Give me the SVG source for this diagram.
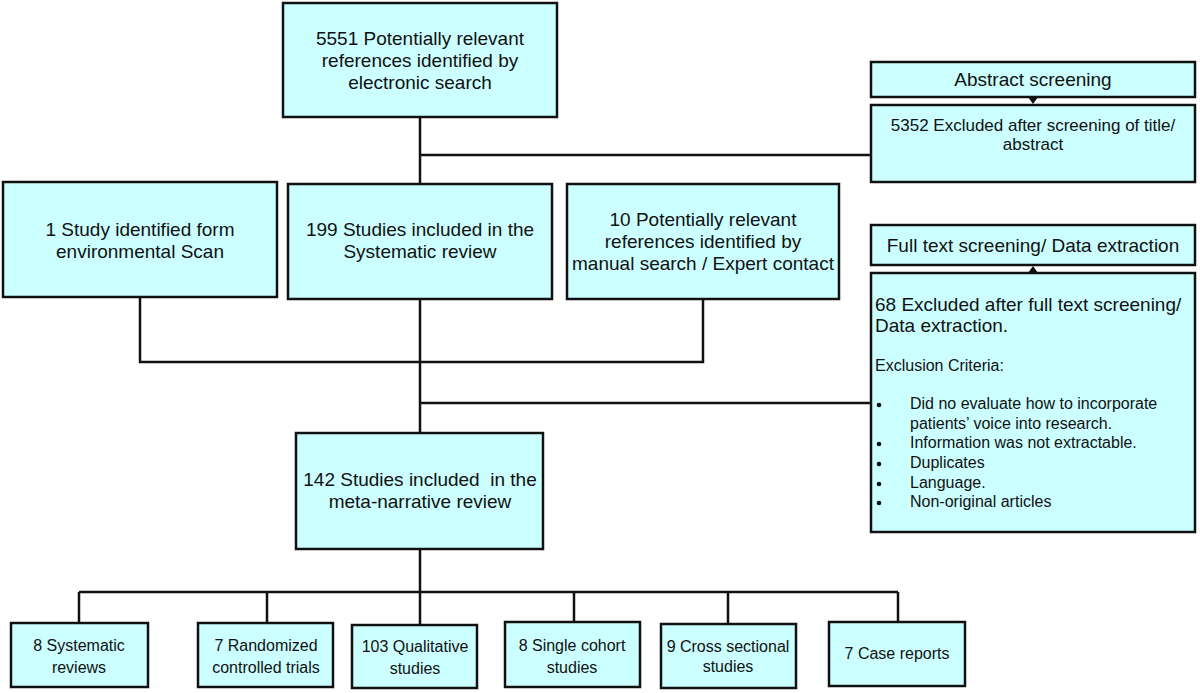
<svg xmlns="http://www.w3.org/2000/svg" width="1200" height="693" viewBox="0 0 1200 693">
<style>
.box{fill:#CCFFFF;stroke:#111;stroke-width:2.5}
.ln{fill:none;stroke:#111;stroke-width:2.5}
text{font-family:"Liberation Sans",Arial,sans-serif;fill:#111}
.t19{font-size:19px;text-anchor:middle}
.t17{font-size:17px;text-anchor:middle}
.t16{font-size:16px;text-anchor:middle}
.l19{font-size:19px}
.l16{font-size:16px}
</style>
<rect width="1200" height="693" fill="#fff"/>
<g id="connectors">
<path class="ln" d="M420 117V184M420 155H871M420 299V433M140 297V362H703V299M420 403H871M420 549V592M79 592H898M79 592V623M267 592V623M420 592V625M574 592V622M728 592V624M898 592V622"/>
<path d="M1028 97L1038 97L1033 104Z" fill="#111"/>
<path d="M1028 273L1038 273L1033 266Z" fill="#111"/>
</g>
<g id="n-top"><rect class="box" x="283" y="3" width="274" height="114"/>
<text class="t19" x="420" y="45">5551 Potentially relevant</text>
<text class="t19" x="420" y="67">references identified by</text>
<text class="t19" x="420" y="89">electronic search</text></g>
<g id="n-abs"><rect class="box" x="871" y="62" width="324" height="35"/>
<text class="t19" x="1033" y="86">Abstract screening</text></g>
<g id="n-excl1"><rect class="box" x="871" y="105" width="324" height="77"/>
<text class="t17" x="1033" y="131">5352 Excluded after screening of title/</text>
<text class="t17" x="1033" y="150">abstract</text></g>
<g id="n-env"><rect class="box" x="3" y="182" width="274" height="115"/>
<text class="t19" x="140" y="236">1 Study identified form</text>
<text class="t19" x="140" y="258">environmental Scan</text></g>
<g id="n-199"><rect class="box" x="288" y="184" width="264" height="115"/>
<text class="t19" x="420" y="236">199 Studies included in the</text>
<text class="t19" x="420" y="258">Systematic review</text></g>
<g id="n-10"><rect class="box" x="567" y="184" width="272" height="115"/>
<text class="t19" x="703" y="226">10 Potentially relevant</text>
<text class="t19" x="703" y="248">references identified by</text>
<text class="t19" x="703" y="270">manual search / Expert contact</text></g>
<g id="n-full"><rect class="box" x="871" y="225" width="324" height="40"/>
<text class="t19" x="1033" y="252">Full text screening/ Data extraction</text></g>
<g id="n-excl2"><rect class="box" x="871" y="273" width="324" height="259"/>
<text class="l19" x="875" y="311">68 Excluded after full text screening/</text>
<text class="l19" x="875" y="332">Data extraction.</text>
<text class="l16" x="875" y="371">Exclusion Criteria:</text>
<g fill="#111"><circle cx="879" cy="405" r="2.3"/><circle cx="879" cy="444" r="2.3"/><circle cx="879" cy="464" r="2.3"/><circle cx="879" cy="484" r="2.3"/><circle cx="879" cy="503" r="2.3"/></g>
<text class="l16" x="910" y="409">Did no evaluate how to incorporate</text>
<text class="l16" x="910" y="429">patients’ voice into research.</text>
<text class="l16" x="910" y="448">Information was not extractable.</text>
<text class="l16" x="910" y="468">Duplicates</text>
<text class="l16" x="910" y="488">Language.</text>
<text class="l16" x="910" y="507">Non-original articles</text></g>
<g id="n-142"><rect class="box" x="296" y="433" width="247" height="116"/>
<text class="t19" x="420" y="486" xml:space="preserve">142 Studies included  in the</text>
<text class="t19" x="420" y="508">meta-narrative review</text></g>
<g id="n-sr"><rect class="box" x="11" y="623" width="137" height="64"/>
<text class="t16" x="79" y="651">8 Systematic</text><text class="t16" x="79" y="673">reviews</text></g>
<g id="n-rct"><rect class="box" x="198" y="623" width="135" height="64"/>
<text class="t16" x="266" y="651">7 Randomized</text><text class="t16" x="266" y="673">controlled trials</text></g>
<g id="n-qual"><rect class="box" x="352" y="625" width="125" height="63"/>
<text class="t16" x="415" y="652">103 Qualitative</text><text class="t16" x="415" y="674">studies</text></g>
<g id="n-coh"><rect class="box" x="505" y="622" width="135" height="65"/>
<text class="t16" x="572" y="651">8 Single cohort</text><text class="t16" x="572" y="673">studies</text></g>
<g id="n-cs"><rect class="box" x="661" y="624" width="135" height="64"/>
<text class="t16" x="728" y="652">9 Cross sectional</text><text class="t16" x="728" y="672">studies</text></g>
<g id="n-case"><rect class="box" x="829" y="622" width="136" height="64"/>
<text class="t16" x="897" y="659">7 Case reports</text></g>
</svg>
